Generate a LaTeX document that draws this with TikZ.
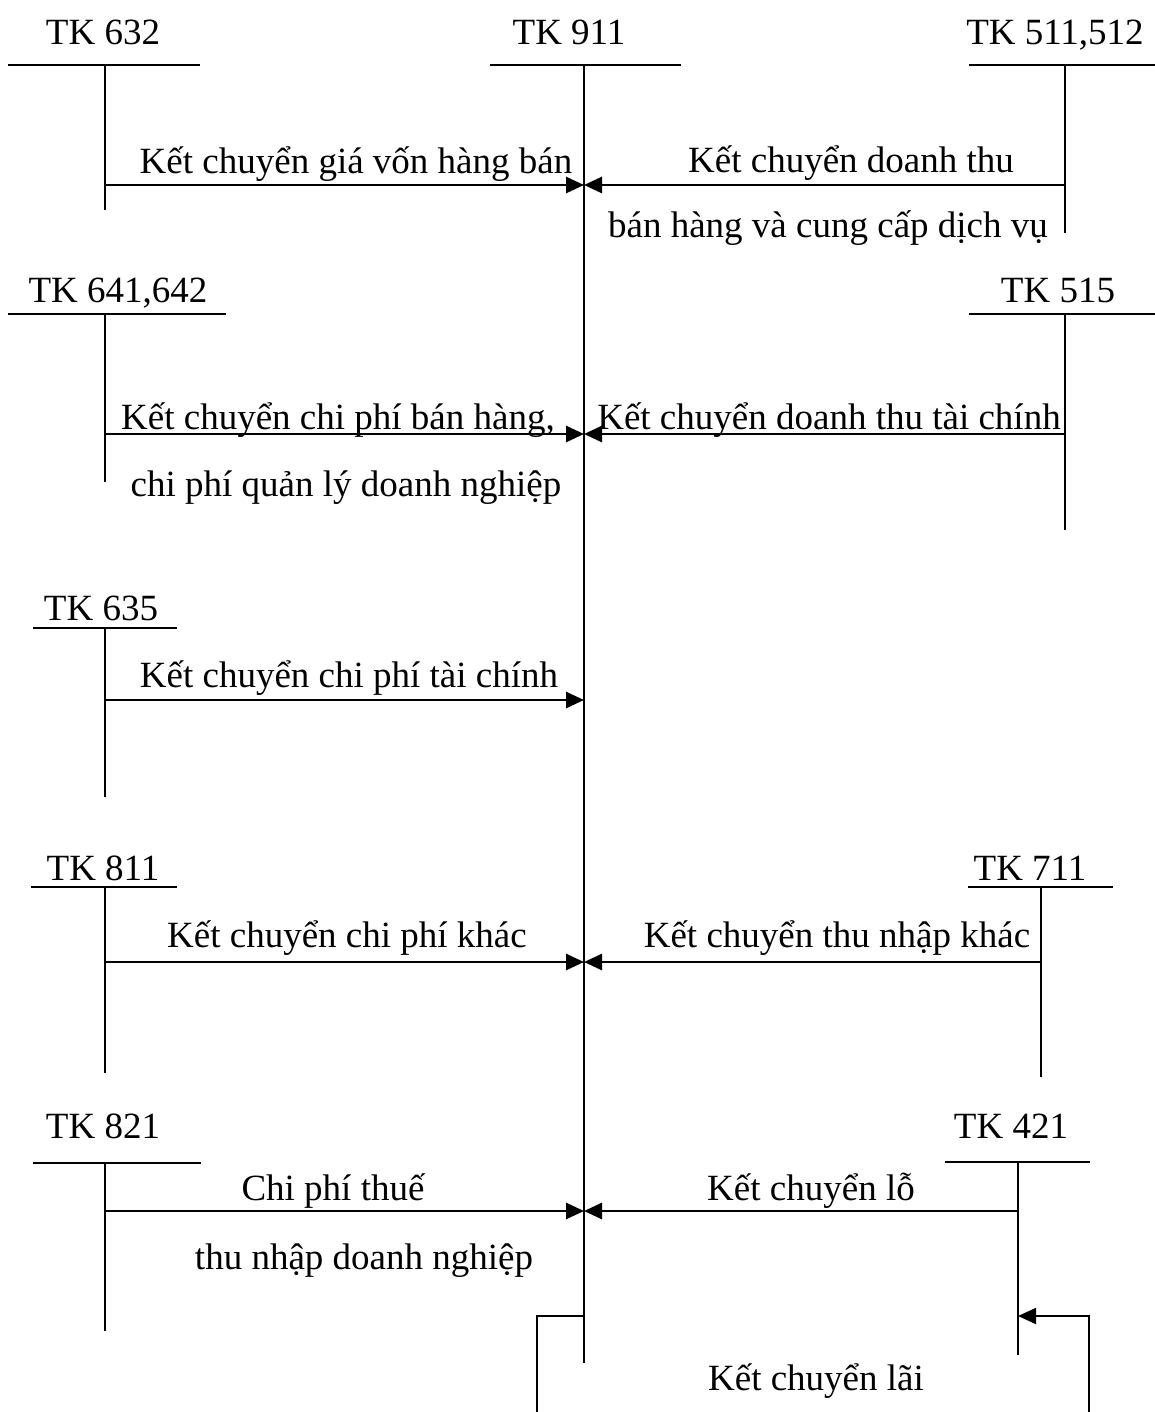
\documentclass[tikz,border=0pt]{standalone}
\usepackage{fontspec}
\setmainfont{Liberation Serif}
\usetikzlibrary{arrows.meta}
\begin{document}
\begin{tikzpicture}[x=0.5pt,y=-0.5pt,
  tline/.style={line width=0.85pt},
  flow/.style={line width=1.4pt,-{Triangle[length=9pt,width=8pt]}},
  loopline/.style={line width=0.95pt},
  lbl/.style={anchor=base,inner sep=0pt,font=\fontsize{18.5}{22}\selectfont}]
\useasboundingbox (0,0) rectangle (1155,1412);
\clip (0,0) rectangle (1155,1412);

% ---------- TK 911 (central account)
\node[lbl] (l911) at (569,45) {TK 911};
\draw[tline] (490,65) -- (681,65);
\coordinate (t911) at (584,65);
\coordinate (b911) at (584,1363);
\draw[tline] (t911) -- (b911);

% ---------- TK 632
\node[lbl] (l632) at (103,45) {TK 632};
\draw[tline] (8,65) -- (200,65);
\draw[tline] (105,65) -- (105,210);
\coordinate (s632) at (105,185);
\coordinate (e632) at (584,185);
\draw[flow] (s632) -- (e632);
\node[lbl] (t632) at (356,174) {Kết chuyển giá vốn hàng bán};

% ---------- TK 511,512
\node[lbl] (l511) at (1055,45) {TK 511,512};
\draw[tline] (969,65) -- (1160,65);
\draw[tline] (1065,65) -- (1065,233);
\coordinate (s511) at (1065,185);
\coordinate (e511) at (584,185);
\draw[flow] (s511) -- (e511);
\node[lbl] (t511a) at (851,173) {Kết chuyển doanh thu};
\node[lbl] (t511b) at (828,238) {bán hàng và cung cấp dịch vụ};

% ---------- TK 641,642
\node[lbl] (l641) at (118,302) {TK 641,642};
\draw[tline] (8,314) -- (226,314);
\draw[tline] (105,314) -- (105,482);
\coordinate (s641) at (105,434);
\coordinate (e641) at (584,434);
\draw[flow] (s641) -- (e641);
\node[lbl] (t641a) at (338,429) {Kết chuyển chi phí bán hàng,};
\node[lbl] (t641b) at (346,496) {chi phí quản lý doanh nghiệp};

% ---------- TK 515
\node[lbl] (l515) at (1058,302) {TK 515};
\draw[tline] (969,314) -- (1160,314);
\draw[tline] (1065,314) -- (1065,530);
\coordinate (s515) at (1065,434);
\coordinate (e515) at (584,434);
\draw[flow] (s515) -- (e515);
\node[lbl] (t515) at (829,429) {Kết chuyển doanh thu tài chính};

% ---------- TK 635
\node[lbl] (l635) at (101,620) {TK 635};
\draw[tline] (33,628) -- (177,628);
\draw[tline] (105,628) -- (105,797);
\coordinate (s635) at (105,700);
\coordinate (e635) at (584,700);
\draw[flow] (s635) -- (e635);
\node[lbl] (t635) at (349,687) {Kết chuyển chi phí tài chính};

% ---------- TK 811
\node[lbl] (l811) at (103,880) {TK 811};
\draw[tline] (31,887) -- (177,887);
\draw[tline] (105,887) -- (105,1073);
\coordinate (s811) at (105,962);
\coordinate (e811) at (584,962);
\draw[flow] (s811) -- (e811);
\node[lbl] (t811) at (347,947) {Kết chuyển chi phí khác};

% ---------- TK 711
\node[lbl] (l711) at (1030,880) {TK 711};
\draw[tline] (968,887) -- (1113,887);
\draw[tline] (1041,887) -- (1041,1077);
\coordinate (s711) at (1041,962);
\coordinate (e711) at (584,962);
\draw[flow] (s711) -- (e711);
\node[lbl] (t711) at (837,947) {Kết chuyển thu nhập khác};

% ---------- TK 821
\node[lbl] (l821) at (103,1138) {TK 821};
\draw[tline] (33,1163) -- (201,1163);
\draw[tline] (105,1163) -- (105,1331);
\coordinate (s821) at (105,1211);
\coordinate (e821) at (584,1211);
\draw[flow] (s821) -- (e821);
\node[lbl] (t821a) at (333,1200) {Chi phí thuế};
\node[lbl] (t821b) at (364,1269) {thu nhập doanh nghiệp};

% ---------- TK 421
\node[lbl] (l421) at (1011,1138) {TK 421};
\draw[tline] (945,1162) -- (1090,1162);
\draw[tline] (1018,1162) -- (1018,1355);
\coordinate (s421) at (1018,1211);
\coordinate (e421) at (584,1211);
\draw[flow] (s421) -- (e421);
\node[lbl] (t421) at (811,1200) {Kết chuyển lỗ};

% ---------- Kết chuyển lãi (911 -> 421, running below the page edge)
\coordinate (lai911) at (584,1316);
\coordinate (lai421) at (1018,1316);
\draw[loopline,-{Triangle[length=9pt,width=8pt]}]
  (lai911) -- (537,1316) -- (537,1460) -- (1089,1460) -- (1089,1316) -- (lai421);
\node[lbl] (tlai) at (816,1390) {Kết chuyển lãi};
\end{tikzpicture}
\end{document}
